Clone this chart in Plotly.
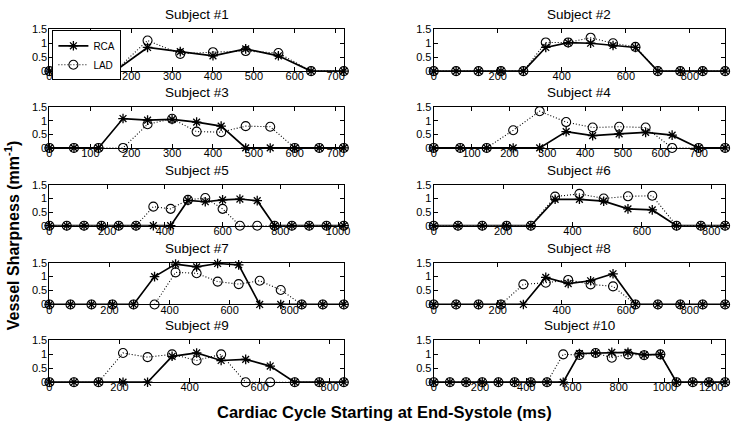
import plotly.graph_objects as go

# ---------------- data ----------------
subject_names = ["Subject #1", "Subject #2", "Subject #3", "Subject #4", "Subject #5",
                 "Subject #6", "Subject #7", "Subject #8", "Subject #9", "Subject #10"]

# frame interval (ms) of the cardiac-cycle samples for each subject
frame_ms = [80, 70, 60, 70, 60, 70, 70, 70, 70, 70]
# x tick spacing for each subject
xtick_step = [100, 200, 100, 100, 200, 200, 200, 200, 200, 200]

rca1 = [0, 0, 0, 0.85, 0.70, 0.55, 0.80, 0.55, 0, 0]
lad1 = [0, 0, 0, 1.10, 0.62, 0.68, 0.72, 0.65, 0, 0]

rca2 = [0, 0, 0, 0, 0, 0.85, 1.02, 1.00, 0.92, 0.85, 0, 0, 0, 0]
lad2 = [0, 0, 0, 0, 0, 1.03, 1.03, 1.20, 1.00, 0.87, 0, 0, 0, 0]

rca3 = [0, 0, 0, 1.08, 1.02, 1.05, 0.95, 0.80, 0, 0, 0, 0, 0]
lad3 = [0, 0, 0, 0, 0.87, 1.07, 0.60, 0.58, 0.80, 0.78, 0, 0, 0]

rca4 = [0, 0, 0, 0, 0, 0.60, 0.45, 0.52, 0.57, 0.47, 0, 0]
lad4 = [0, 0, 0, 0.65, 1.35, 0.95, 0.75, 0.78, 0.75, 0, 0, 0]

rca5 = [0, 0, 0, 0, 0, 0, 0, 0, 0.93, 0.88, 0.95, 0.98, 0.92, 0, 0, 0, 0, 0]
lad5 = [0, 0, 0, 0, 0, 0, 0.70, 0.62, 0.95, 1.02, 0.62, 0, 0, 0, 0, 0, 0, 0]

rca6 = [0, 0, 0, 0, 0, 0.97, 0.97, 0.90, 0.62, 0.58, 0, 0, 0]
lad6 = [0, 0, 0, 0, 0, 1.07, 1.17, 1.00, 1.08, 1.10, 0, 0, 0]

rca7 = [0, 0, 0, 0, 0, 1.00, 1.45, 1.35, 1.47, 1.42, 0, 0, 0, 0, 0]
lad7 = [0, 0, 0, 0, 0, 0, 1.15, 1.12, 0.82, 0.73, 0.85, 0.52, 0, 0, 0]

rca8 = [0, 0, 0, 0, 0, 0.97, 0.75, 0.85, 1.10, 0, 0, 0, 0, 0]
lad8 = [0, 0, 0, 0, 0.72, 0.78, 0.88, 0.72, 0.65, 0, 0, 0, 0, 0]

rca9 = [0, 0, 0, 0, 0, 0.93, 1.05, 0.78, 0.82, 0.58, 0, 0, 0]
lad9 = [0, 0, 0, 1.05, 0.90, 1.00, 0.78, 1.00, 0, 0, 0, 0, 0]

rca10 = [0, 0, 0, 0, 0, 0, 0, 0, 0, 1.03, 1.05, 1.07, 1.07, 0.98, 1.00, 0, 0, 0, 0]
lad10 = [0, 0, 0, 0, 0, 0, 0, 0, 1.00, 0.98, 1.05, 0.88, 1.00, 0.97, 1.00, 0, 0, 0, 0]

rca_all = [rca1, rca2, rca3, rca4, rca5, rca6, rca7, rca8, rca9, rca10]
lad_all = [lad1, lad2, lad3, lad4, lad5, lad6, lad7, lad8, lad9, lad10]

y_ticks = [0, 0.5, 1, 1.5]
y_tick_text = ["0", "0.5", "1", "1.5"]

# ---------------- layout geometry ----------------
W, H = 740, 431
col_px = [(47, 345), (436, 731)]
row_px = [(24, 67), (104, 146), (184, 226), (264, 307), (344, 387)]
FONT = "Liberation Sans, Arial, Helvetica, sans-serif"

fig = go.Figure()
annotations = []
layout_axes = {}

for i in range(10):
    r, c = i // 2, i % 2
    x0, x1 = col_px[c]
    yt, yb = row_px[r]
    n = len(rca_all[i])
    t = [k * frame_ms[i] for k in range(n)]
    xmax = t[-1]
    ax = "" if i == 0 else str(i + 1)
    xa, ya = "x" + ax, "y" + ax

    fig.add_trace(go.Scatter(
        x=t, y=rca_all[i], xaxis=xa, yaxis=ya, name="RCA", mode="lines+markers",
        line=dict(color="black", width=1.7),
        marker=dict(symbol="asterisk-open", size=8, color="black", line=dict(color="black", width=1.3)),
        cliponaxis=False, showlegend=(i == 0), legendrank=1))
    fig.add_trace(go.Scatter(
        x=t, y=lad_all[i], xaxis=xa, yaxis=ya, name="LAD", mode="lines+markers",
        line=dict(color="black", width=1.1, dash="1px,2px"),
        marker=dict(symbol="circle-open", size=9, color="black", line=dict(color="black", width=1.1)),
        cliponaxis=False, showlegend=(i == 0), legendrank=2))

    xticks = list(range(0, xmax + 1, xtick_step[i]))
    common = dict(showline=True, linecolor="black", linewidth=1, mirror="ticks",
                  ticks="inside", ticklen=4, tickcolor="black", tickwidth=1,
                  showgrid=False, zeroline=False,
                  tickfont=dict(family=FONT, size=11, color="black"))
    layout_axes["xaxis" + ax] = dict(
        domain=[x0 / W, x1 / W], anchor=ya, range=[0, xmax],
        tickvals=xticks, ticktext=[str(v) for v in xticks],
        ticklabelstandoff=-5, **common)
    layout_axes["yaxis" + ax] = dict(
        domain=[1 - yb / H, 1 - yt / H], anchor=xa, range=[0, 1.5],
        tickvals=y_ticks, ticktext=y_tick_text, ticklabelstandoff=-1, **common)

    annotations.append(dict(
        text=subject_names[i], x=(x0 + x1) / 2 / W, y=1 - (yt - 15) / H,
        xref="paper", yref="paper", xanchor="center", yanchor="middle",
        showarrow=False, font=dict(family=FONT, size=13.5, color="black")))

annotations.append(dict(
    text="<b>Vessel Sharpness (mm<sup>-1</sup>)</b>", x=10 / W, y=1 - 236 / H,
    xref="paper", yref="paper", xanchor="center", yanchor="middle", textangle=-90,
    showarrow=False, font=dict(family=FONT, size=16, color="black")))
annotations.append(dict(
    text="<b>Cardiac Cycle Starting at End-Systole (ms)</b>", x=386 / W, y=1 - 418 / H,
    xref="paper", yref="paper", xanchor="center", yanchor="middle",
    showarrow=False, font=dict(family=FONT, size=16.5, color="black")))

fig.update_layout(
    width=W, height=H, margin=dict(l=0, r=0, t=0, b=0),
    paper_bgcolor="white", plot_bgcolor="white",
    annotations=annotations,
    legend=dict(x=50 / W, y=1 - 25 / H, xanchor="left", yanchor="top",
                bgcolor="white", bordercolor="black", borderwidth=1,
                font=dict(family=FONT, size=10, color="black"),
                itemwidth=30, tracegroupgap=0),
    **layout_axes)

fig.write_html("out.html",
               config={"displayModeBar": False, "staticPlot": True},
               post_script="document.body.style.margin='0px';document.body.style.overflow='hidden';")
